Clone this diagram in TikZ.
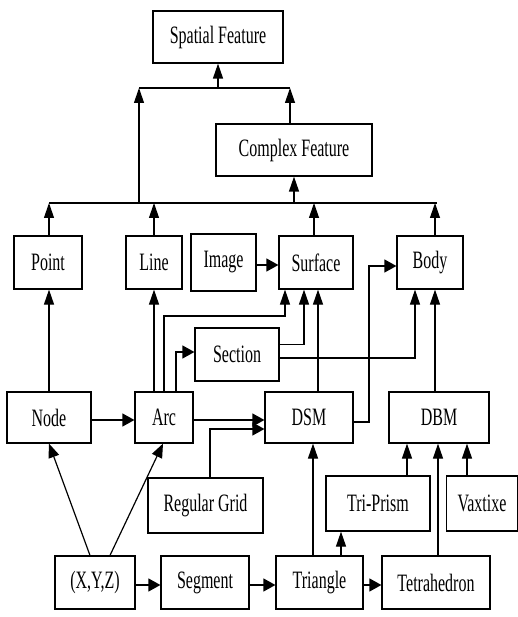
\documentclass[tikz,border=0pt]{standalone}
\usepackage{fontspec}
\setmainfont{Liberation Serif}[FakeStretch=0.64]
\usetikzlibrary{arrows.meta}
\begin{document}
\begin{tikzpicture}[x=1pt,y=-1pt,
  box/.style={draw, line width=1.2pt, inner sep=0pt, font=\fontsize{25}{27}\selectfont},
  conn/.style={line width=1.2pt},
  varr/.style={conn, -{Triangle[length=15pt,width=10pt]}},
  harr/.style={conn, -{Triangle[length=12pt,width=13pt]}},
  darr/.style={conn, -{Triangle[length=14pt,width=11pt]}}]
\useasboundingbox (0,0) rectangle (518,617);
% nodes
\node[box, minimum width=130pt, minimum height=52pt] (spatial) at (218,37) {Spatial Feature};
\node[box, minimum width=156pt, minimum height=52pt] (complex) at (294,150) {Complex Feature};
\node[box, minimum width=68pt, minimum height=53pt] (point) at (48,262.5) {Point};
\node[box, minimum width=56pt, minimum height=53pt] (line) at (154,262.5) {Line};
\node[box, minimum width=65pt, minimum height=57pt] (image) at (223.5,262.5) {Image};
\node[box, minimum width=74pt, minimum height=53pt] (surface) at (316,262.5) {Surface};
\node[box, minimum width=66pt, minimum height=53pt] (body) at (430,262.5) {Body};
\node[box, minimum width=84pt, minimum height=53pt] (section) at (237,354.5) {Section};
\node[box, minimum width=84pt, minimum height=51pt] (node) at (49,417.5) {Node};
\node[box, minimum width=58pt, minimum height=51pt] (arc) at (164,417.5) {Arc};
\node[box, minimum width=88pt, minimum height=51pt] (dsm) at (309,417.5) {DSM};
\node[box, minimum width=100pt, minimum height=51pt] (dbm) at (439,417.5) {DBM};
\node[box, minimum width=115pt, minimum height=55pt] (regular) at (205.5,505.5) {Regular Grid};
\node[box, minimum width=104pt, minimum height=55pt] (triprism) at (378,503.5) {Tri-Prism};
\node[box, minimum width=71pt, minimum height=55pt] (vaxtixe) at (482,503.5) {Vaxtixe};
\node[box, minimum width=80pt, minimum height=53pt] (xyz) at (95,582.5) {(X,Y,Z)};
\node[box, minimum width=88pt, minimum height=53pt] (segment) at (205,582.5) {Segment};
\node[box, minimum width=87pt, minimum height=53pt] (triangle) at (319.5,582.5) {Triangle};
\node[box, minimum width=108pt, minimum height=53pt] (tetra) at (436,582.5) {Tetrahedron};
% junction coordinates
\coordinate (tl) at (139,88);
\coordinate (tr) at (290,88);
\coordinate (bl) at (49,203);
\coordinate (br) at (437,203);
\coordinate (c1) at (285,316);
\coordinate (c3) at (369,266);
% top connectors
\draw[conn] (tl) -- (tr);
\draw[varr] (tl -| spatial) -- (spatial.south);
\draw[varr] (tl |- bl) -- (tl);
\draw[varr] (complex.north -| tr) -- (tr);
\draw[varr] (bl -| complex) -- (complex.south);
\draw[conn] (bl) -- (br);
\coordinate (pn) at ([xshift=1pt]point.north);
\draw[varr] (pn) -- (pn |- bl);
\draw[varr] (line.north) -- (line.north |- bl);
\coordinate (sn) at ([xshift=-2pt]surface.north);
\draw[varr] (sn) -- (sn |- bl);
\coordinate (bn) at ([xshift=5pt]body.north);
\draw[varr] (bn) -- (bn |- bl);
% middle
\draw[harr] ([yshift=-2.5pt]image.east) -- ([yshift=-2.5pt]image.east -| surface.west);
\draw[varr] (node.north) -- (node.north |- point.south);
\coordinate (a1) at ([xshift=-10pt]arc.north);
\draw[varr] (a1) -- (a1 |- line.south);
\draw[varr] (arc.north) |- (c1) -- (c1 |- surface.south);
\coordinate (a3) at ([xshift=12pt]arc.north);
\draw[harr] (a3) |- ([yshift=2.5pt]section.west);
\draw[varr] ([yshift=10pt]section.east) -| ([xshift=-12pt]surface.south);
\coordinate (d1) at ([xshift=9pt]dsm.north);
\draw[varr] (d1) -- (d1 |- surface.south);
\draw[varr] ([yshift=-3.5pt]section.east) -| ([xshift=-15pt]body.south);
\draw[harr] ([yshift=-4.5pt]dsm.east) -| (c3) -- (c3 -| body.west);
\coordinate (d2) at ([xshift=-4pt]dbm.north);
\draw[varr] (d2) -- (d2 |- body.south);
\draw[harr] ([yshift=-2.5pt]node.east) -- ([yshift=-2.5pt]node.east -| arc.west);
\draw[harr] ([yshift=-2.5pt]arc.east) -- ([yshift=-2.5pt]arc.east -| dsm.west);
\draw[harr] ([xshift=4.5pt]regular.north) |- ([yshift=-11.5pt]dsm.west);
% bottom
\draw[darr] ([xshift=-5pt]xyz.north) -- (node.south);
\draw[darr] ([xshift=15pt]xyz.north) -- ([xshift=-1pt]arc.south);
\draw[harr] ([yshift=-2.5pt]xyz.east) -- ([yshift=-2.5pt]segment.west);
\draw[harr] ([yshift=-2.5pt]segment.east) -- ([yshift=-2.5pt]triangle.west);
\draw[harr] ([yshift=-2.5pt]triangle.east) -- ([yshift=-2.5pt]tetra.west);
\coordinate (t1) at ([xshift=-6.5pt]triangle.north);
\draw[varr] (t1) -- (t1 |- dsm.south);
\coordinate (t2) at ([xshift=21.5pt]triangle.north);
\draw[varr] (t2) -- (t2 |- triprism.south);
\coordinate (t3) at ([xshift=2pt]tetra.north);
\draw[varr] (t3) -- (t3 |- dbm.south);
\coordinate (p1) at ([xshift=29pt]triprism.north);
\draw[varr] (p1) -- (p1 |- dbm.south);
\coordinate (v1) at ([xshift=-15pt]vaxtixe.north);
\draw[varr] (v1) -- (v1 |- dbm.south);
\end{tikzpicture}
\end{document}
